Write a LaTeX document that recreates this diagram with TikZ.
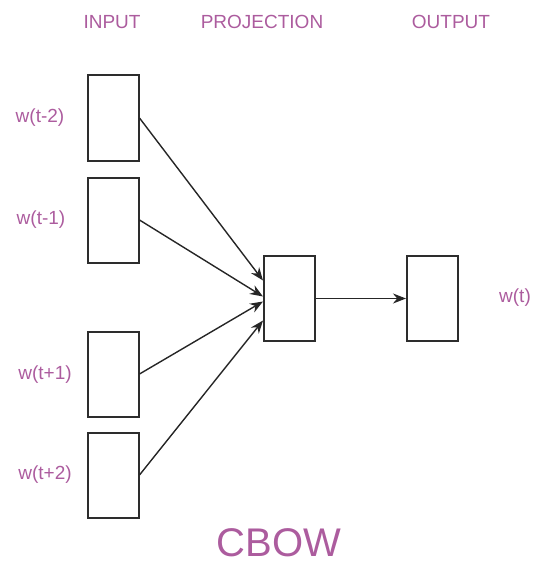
\documentclass[tikz,border=0pt]{standalone}
\usepackage{fontspec}
\setmainfont{Liberation Sans}
\usetikzlibrary{arrows.meta}
\definecolor{mauve}{RGB}{172,92,158}
\definecolor{boxline}{RGB}{45,45,45}
\begin{document}
\begin{tikzpicture}[x=1pt,y=-1pt,
  vec/.style={draw=boxline,line width=2pt,fill=white,minimum width=51pt,minimum height=85pt,inner sep=0pt},
  lbl/.style={text=mauve,font=\fontsize{19}{22}\selectfont,inner sep=0pt},
  conn/.style={draw=black!85,line width=1.4pt,-{Stealth[length=13pt,width=10pt]}}]
\useasboundingbox (0,0) rectangle (545,567);
% column headers
\node[lbl] (hin)  at (112,22) {INPUT};
\node[lbl] (hpr)  at (262,22) {PROJECTION};
\node[lbl] (hout) at (451,22) {OUTPUT};
% context word vectors
\node[vec] (i1) at (113,118) {};
\node[vec] (i2) at (113,220) {};
\node[vec] (i3) at (113,374) {};
\node[vec] (i4) at (113,475) {};
\node[lbl] (l1) at (40,118) {w(t-2)};
\node[lbl] (l2) at (41,220) {w(t-1)};
\node[lbl] (l3) at (45,375) {w(t+1)};
\node[lbl] (l4) at (45,475) {w(t+2)};
% projection and output
\node[vec] (p) at (289.5,298.5) {};
\node[vec] (o) at (432.5,298.5) {};
\node[lbl] (lo) at (515,298) {w(t)};
% connectors (yshift is measured upwards)
\draw[conn] (i1.east) -- ([yshift=18pt]p.west);
\draw[conn] (i2.east) -- ([yshift=2pt]p.west);
\draw[conn] (i3.east) -- ([yshift=-3pt]p.west);
\draw[conn] (i4.east) -- ([yshift=-22pt]p.west);
\draw[conn] (p.east) -- (o.west);
% title
\node[text=mauve,font=\fontsize{40}{44}\selectfont,inner sep=0pt] (title) at (279,543) {CBOW};
\end{tikzpicture}
\end{document}
